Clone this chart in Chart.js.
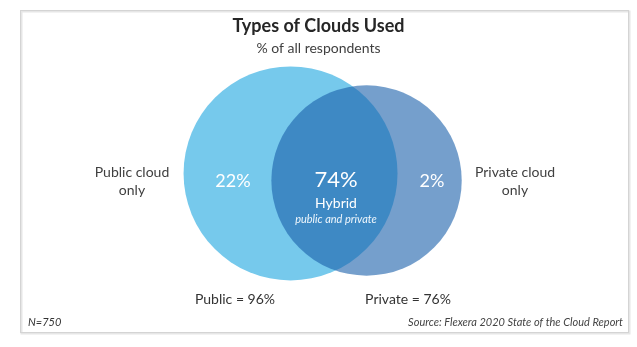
<!DOCTYPE html>
<html>
<head>
<meta charset="utf-8">
<script src="https://cdn.jsdelivr.net/npm/chart.js@4.4.0/dist/chart.umd.min.js"></script>
<style>
html, body { margin: 0; padding: 0; background: #fff; }
#wrap { width: 637px; height: 347px; }
</style>
</head>
<body>
<div id="wrap"><canvas id="chart1"></canvas></div>
<script>
'use strict'

// data
const SETS = ['Public', 'Private']
const SET_TOTALS = [96, 76]
const REGIONS = ['Public cloud only', 'Hybrid', 'Private cloud only']
const REGION_VALUES = [22, 74, 2]
const RESPONDENTS = 750

const FONT = 'Lato, "Open Sans", sans-serif'
const TEXT = '#404040'

// layout (venn units, radius of a set = sqrt(total))
const CENTERS = [{x: -2.56, y: 0.32}, {x: 4.40, y: -0.32}]
const FILLS = ['rgb(118, 201, 236)', 'rgba(25, 95, 170, 0.6)']

const label = function(ctx, text, x, y, font, color, align) {
	ctx.font = font
	ctx.fillStyle = color
	ctx.textAlign = align || 'center'
	ctx.textBaseline = 'middle'
	ctx.fillText(text, x, y)
}

const frame = {
	id: 'frame',
	beforeDraw(chart) {
		const ctx = chart.ctx
		ctx.save()
		ctx.fillStyle = '#fff'
		ctx.fillRect(0, 0, chart.width, chart.height)
		ctx.strokeStyle = '#e6e6e6'
		ctx.lineWidth = 2
		ctx.strokeRect(21.5, 11.5, 608, 322)
		ctx.strokeStyle = '#d4d4d4'
		ctx.lineWidth = 1
		ctx.strokeRect(20.5, 10.5, 608, 322)
		ctx.restore()
	}
}

const vennText = {
	id: 'vennText',
	afterDatasetsDraw(chart) {
		const ctx = chart.ctx
		ctx.save()
		// outside labels
		const pubLines = ['Public cloud', 'only']
		const privLines = ['Private cloud', 'only']
		pubLines.forEach((t, i) => label(ctx, t, 132, 172 + i * 18, `14px ${FONT}`, TEXT))
		privLines.forEach((t, i) => label(ctx, t, 515, 172 + i * 18, `14px ${FONT}`, TEXT))
		// region values
		label(ctx, REGION_VALUES[0] + '%', 233, 181, `18px ${FONT}`, '#fff')
		label(ctx, REGION_VALUES[1] + '%', 336, 180, `22px ${FONT}`, '#fff')
		label(ctx, REGIONS[1], 336, 203, `14px ${FONT}`, '#fff')
		label(ctx, 'public and private', 336, 219, `italic 11px ${FONT}`, '#eef6fc')
		label(ctx, REGION_VALUES[2] + '%', 432, 181, `18px ${FONT}`, '#fff')
		// set totals
		label(ctx, `${SETS[0]} = ${SET_TOTALS[0]}%`, 235, 299, `14px ${FONT}`, '#333')
		label(ctx, `${SETS[1]} = ${SET_TOTALS[1]}%`, 408, 299, `14px ${FONT}`, '#333')
		// footer
		label(ctx, `N=${RESPONDENTS}`, 28, 322, `italic 11px ${FONT}`, '#333', 'left')
		label(ctx, 'Source: Flexera 2020 State of the Cloud Report', 623, 322, `italic 11px ${FONT}`, '#444', 'right')
		ctx.restore()
	}
}

const ctx = document.getElementById('chart1').getContext('2d')
const vennChart = new Chart(ctx, {
	type: 'scatter',
	data: {
		datasets: [{
			label: 'Types of Clouds Used',
			data: SETS.map((s, i) => ({x: CENTERS[i].x, y: CENTERS[i].y})),
			pointBackgroundColor: FILLS,
			pointBorderWidth: 0,
			pointBorderColor: 'rgba(0,0,0,0)',
			clip: false,
			pointRadius: function(c) {
				const s = c.chart.scales.x
				return s.getPixelForValue(Math.sqrt(SET_TOTALS[c.dataIndex])) - s.getPixelForValue(0)
			}
		}]
	},
	options: {
		responsive: true,
		maintainAspectRatio: false,
		animation: false,
		events: [],
		layout: {padding: 0},
		scales: {
			x: {display: false, min: -29.17, max: 29.17},
			y: {display: false, min: -15.43, max: 10.76}
		},
		plugins: {
			legend: {display: false},
			tooltip: {enabled: false},
			title: {
				display: true,
				text: 'Types of Clouds Used',
				color: '#262626',
				font: {family: FONT, size: 18, weight: 'bold'},
				padding: {top: 15, bottom: 3}
			},
			subtitle: {
				display: true,
				text: '% of all respondents',
				color: TEXT,
				font: {family: FONT, size: 14},
				padding: {top: 0, bottom: 2}
			}
		}
	},
	plugins: [frame, vennText]
})
</script>
</body>
</html>
